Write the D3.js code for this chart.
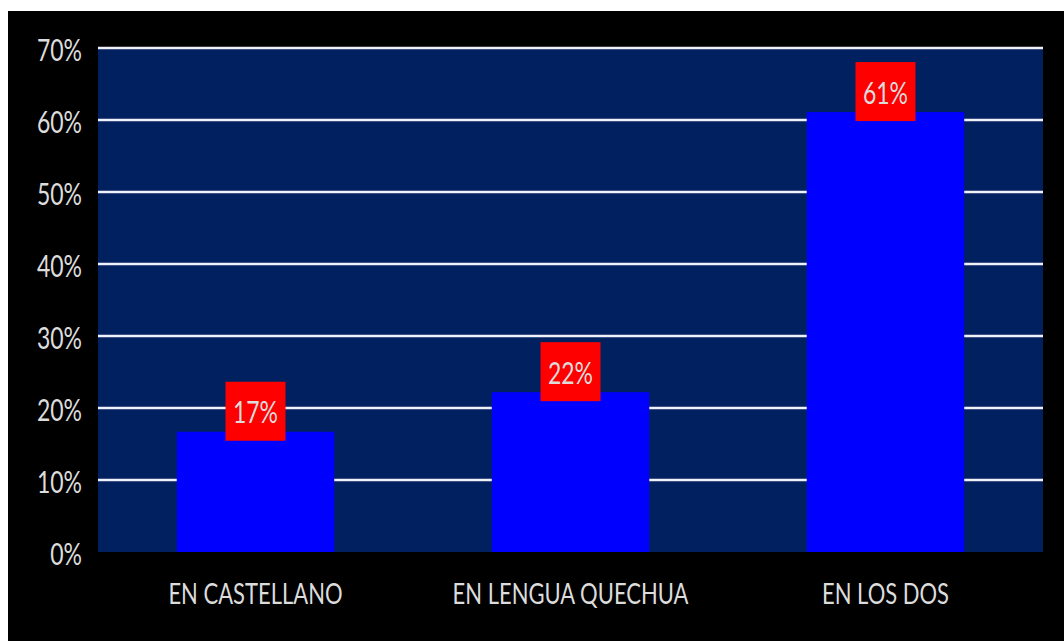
<!DOCTYPE html>
<html><head><meta charset="utf-8">
<script src="https://cdn.jsdelivr.net/npm/d3@7"></script>
<style>body{margin:0;background:#fff;}svg{display:block;}</style>
</head><body>
<script>
const categories = ["EN CASTELLANO", "EN LENGUA QUECHUA", "EN LOS DOS"];
const values = [0.167, 0.222, 0.611];
const valueLabels = ["17%", "22%", "61%"];
const yTicks = [0, 0.1, 0.2, 0.3, 0.4, 0.5, 0.6, 0.7];

(function(){
const W = 1064, H = 641;
const svg = d3.select("body").append("svg").attr("width", W).attr("height", H);
svg.append("rect").attr("x", 8).attr("y", 11).attr("width", W - 8).attr("height", H - 11).attr("fill", "#000");

const pl = 98, pr = 1043, pt = 48, pb = 552;
const x = d3.scaleBand().domain(categories).range([pl, pr]).paddingInner(0.5).paddingOuter(0.25);
const y = d3.scaleLinear().domain([0, 0.7]).range([pb, pt]);

svg.append("rect").attr("x", pl).attr("y", pt).attr("width", pr - pl).attr("height", pb - pt).attr("fill", "#002060");

const font = "Lato, 'Open Sans', sans-serif";
const txtCol = "#dcdcdc";
const vScale = 1.3;

// gridlines
svg.append("g").selectAll("line").data(yTicks.filter(d => d > 0)).join("line")
  .attr("x1", pl).attr("x2", pr)
  .attr("y1", d => y(d)).attr("y2", d => y(d))
  .attr("stroke", "#f0f0f8").attr("stroke-width", 2.6);

// y axis labels
const yAxis = d3.axisLeft(y).tickValues(yTicks).tickFormat(d3.format(".0%")).tickSize(0).tickPadding(0);
const ga = svg.append("g").attr("transform", `translate(82,0)`).call(yAxis);
ga.select(".domain").remove();
ga.selectAll(".tick").each(function(d){
  const g = d3.select(this);
  g.attr("transform", `translate(0,${y(d) + 2}) scale(1,${vScale})`);
  g.select("text").attr("fill", txtCol).attr("font-family", font).attr("font-size", 23)
    .attr("dy", null).attr("x", 0).attr("dominant-baseline", "central");
});

// bars
svg.append("g").selectAll("rect").data(values).join("rect")
  .attr("x", (d, i) => x(categories[i]))
  .attr("y", d => y(d))
  .attr("width", x.bandwidth())
  .attr("height", d => pb - y(d))
  .attr("fill", "#0000ff");

// value label boxes
const bw = 60, bh = 59, overlap = 9;
const lg = svg.append("g").selectAll("g").data(values).join("g")
  .attr("transform", (d, i) => `translate(${x(categories[i]) + x.bandwidth() / 2},${y(d) + overlap - bh})`);
lg.append("rect").attr("x", -bw / 2).attr("y", 0).attr("width", bw).attr("height", bh).attr("fill", "#ff0000");
lg.append("text").text((d, i) => valueLabels[i])
  .attr("text-anchor", "middle").attr("dominant-baseline", "central")
  .attr("transform", `translate(0,${bh / 2 + 1}) scale(1,${vScale})`)
  .attr("fill", txtCol).attr("font-family", font).attr("font-size", 23);

// category labels
const xAxis = d3.axisBottom(x).tickSize(0).tickPadding(0);
const gx = svg.append("g").attr("transform", `translate(0,${pb})`).call(xAxis);
gx.select(".domain").remove();
gx.selectAll(".tick text")
  .attr("fill", txtCol).attr("font-family", font).attr("font-size", 22)
  .attr("dy", null).attr("y", 0).attr("dominant-baseline", "central")
  .attr("transform", `translate(0,41) scale(1,${vScale})`);
})();
</script>
</body></html>
